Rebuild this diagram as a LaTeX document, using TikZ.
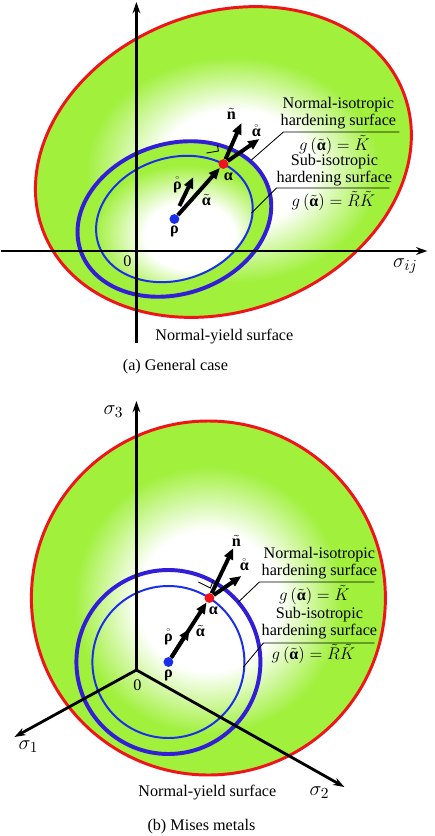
\documentclass[tikz,border=0pt]{standalone}
\usepackage{fontspec}
\setmainfont{Liberation Serif}
\usepackage{amsmath}
\usetikzlibrary{calc,arrows.meta}

\definecolor{leaf}{RGB}{160,240,60}
\definecolor{yieldred}{RGB}{240,20,25}
\definecolor{isoblue}{RGB}{50,30,215}
\definecolor{subblue}{RGB}{25,45,235}

% upright bold letters for tensors
\newcommand{\tens}[1]{\text{\textbf{#1}}}

% white centre fading to green
\pgfdeclareradialshading{yieldA}{\pgfpoint{1.7bp}{1.9bp}}{color(0bp)=(white); color(9bp)=(white); color(17.5bp)=(leaf); color(50bp)=(leaf)}
\pgfdeclareradialshading{innerA}{\pgfpoint{6bp}{-5bp}}{color(0bp)=(white); color(13bp)=(white); color(26bp)=(leaf); color(50bp)=(leaf)}
\pgfdeclareradialshading{yieldB}{\pgfpoint{0bp}{-0.5bp}}{color(0bp)=(white); color(10bp)=(white); color(19bp)=(leaf); color(50bp)=(leaf)}

\tikzset{
  axisline/.style={line width=2pt, -{Stealth[length=8pt,width=5.5pt]}},
  vec/.style={line width=2.8pt, -{Triangle[length=8pt,width=6.5pt]}},
  leader/.style={line width=0.6pt},
  yieldsurf/.style={draw=yieldred, line width=2.1pt},
  isosurf/.style={draw=isoblue, line width=2.8pt},
  subsurf/.style={draw=subblue, line width=1.4pt},
  dot/.style={circle, inner sep=0pt, minimum size=7pt},
  sig/.style={font=\fontsize{15}{15}\selectfont},
}

\begin{document}
\begin{tikzpicture}[x=0.025cm, y=-0.025cm, inner sep=0.5pt, font=\fontsize{11.5}{11.8}\selectfont]

    % page
    \fill[white] (0,0) rectangle (427,836);

    %% (a) general case
    \coordinate (Oa) at (135,251);
    \coordinate (ctrYieldA) at (222,162);
    \coordinate (rhoA) at (173,219);
    \coordinate (alphaA) at (222,164);

    % surfaces
    \shade[shading=yieldA, rotate around={21:(ctrYieldA)}] (ctrYieldA) ellipse [x radius=193, y radius=149];
    \fill[leaf, rotate around={18.5:(rhoA)}] (rhoA) ellipse [x radius=99, y radius=75];
    \shade[shading=innerA, rotate around={18.5:(rhoA)}] (rhoA) ellipse [x radius=80, y radius=61];
    \draw[yieldsurf, rotate around={21:(ctrYieldA)}] (ctrYieldA) ellipse [x radius=193, y radius=149];
    \draw[isosurf, rotate around={18.5:(rhoA)}] (rhoA) ellipse [x radius=99, y radius=75];
    \draw[subsurf, rotate around={18.5:(rhoA)}] (rhoA) ellipse [x radius=80, y radius=61];

    % axes
    \coordinate (sigTopA) at (135,2);
    \coordinate (sigBotA) at (135,343);
    \coordinate (sigLeftA) at (0,251);
    \coordinate (sigRightA) at (426,251);
    \draw[axisline] (sigBotA) -- (sigTopA);
    \draw[axisline] (sigLeftA) -- (sigRightA);

    % points and vectors
    \node[dot, fill=subblue] (rhoPtA) at (rhoA) {};
    \node[dot, fill=yieldred] (alphaPtA) at (alphaA) {};
    \coordinate (rDotTailA) at (178,206);
    \coordinate (rDotTipA) at (192,177);
    \coordinate (nTipA) at (240,123);
    \coordinate (aDotTipA) at (258,139);
    \draw[vec] (rhoPtA) -- (alphaPtA);
    \draw[vec] (rDotTailA) -- (rDotTipA);
    \draw[vec] (alphaPtA) -- (nTipA);
    \draw[vec] (alphaPtA) -- (aDotTipA);
    \draw[leader] (205,153) -- (217,151) -- (216,145); % right angle

    \node (nLblA) at (230,114) {$\tilde{\tens{n}}$};
    \node (aDotLblA) at (255,131) {$\mathring{\tens{α}}$};
    \node (alphaLblA) at (227,177) {$\tens{α}$};
    \node (aTilLblA) at (205,200) {$\tilde{\tens{α}}$};
    \node (rDotLblA) at (176,185) {$\mathring{\tens{ρ}}$};
    \node (rhoLblA) at (173,231) {$\tens{ρ}$};
    \node (zeroA) at (126,261) {0};
    \node[sig] (sigLblA) at (404,266) {$\sigma_{ij}$};

    % callouts
    \node[align=center] (isoTxtA) at (337,113) {Normal-isotropic\\hardening surface};
    \node (isoEqA) at (333,145) {$g\,(\tilde{\tens{α}})=\tilde{K}$};
    \node[align=center] (subTxtA) at (333,170) {Sub-isotropic\\hardening surface};
    \node (subEqA) at (332,201) {$g\,(\tilde{\tens{α}})=\tilde{R}\tilde{K}$};
    \coordinate (isoTipA) at (250,160);
    \coordinate (isoKneeA) at (282,132);
    \coordinate (isoEndA) at (398,132);
    \coordinate (subTipA) at (250,213);
    \coordinate (subKneeA) at (275,188);
    \coordinate (subEndA) at (388,188);
    \draw[leader] (isoTipA) -- (isoKneeA) -- (isoEndA);
    \draw[leader] (subTipA) -- (subKneeA) -- (subEndA);

    \node (yieldTxtA) at (223,337) {Normal-yield surface};
    \node (capA) at (174,367) {(a) General case};

    %% (b) Mises metals
    \coordinate (Ob) at (135,670);
    \coordinate (ctrYieldB) at (207,598);
    \coordinate (rhoB) at (167,662);
    \coordinate (alphaB) at (208,598);

    % surfaces
    \shade[shading=yieldB] (ctrYieldB) circle [radius=177];
    \draw[yieldsurf] (ctrYieldB) circle [radius=177];
    \draw[isosurf] (rhoB) circle [radius=92];
    \draw[subsurf] (rhoB) circle [radius=76];

    % axes
    \coordinate (sig3Tip) at (135,401);
    \coordinate (sig1Tip) at (13,737);
    \coordinate (sig2Tip) at (343,787);
    \draw[axisline] (Ob) -- (sig3Tip);
    \draw[axisline] (Ob) -- (sig1Tip);
    \draw[axisline] (Ob) -- (sig2Tip);

    % points and vectors
    \node[dot, fill=subblue] (rhoPtB) at (rhoB) {};
    \node[dot, fill=yieldred] (alphaPtB) at (alphaB) {};
    \coordinate (rDotTipB) at ($(rhoB)!0.52!(alphaB)$);
    \coordinate (nTipB) at (232,548);
    \coordinate (aDotTipB) at (240,576);
    \draw[vec] (rhoPtB) -- (alphaPtB);
    \draw[vec] (rhoPtB) -- (rDotTipB);
    \draw[vec] (alphaPtB) -- (nTipB);
    \draw[vec] (alphaPtB) -- (aDotTipB);
    \draw[leader] (197,582) -- (209,588) -- (212,580); % right angle

    \node (nLblB) at (235,541) {$\tilde{\tens{n}}$};
    \node (aDotLblB) at (243,565) {$\mathring{\tens{α}}$};
    \node (alphaLblB) at (212,611) {$\tens{α}$};
    \node (aTilLblB) at (199,631) {$\tilde{\tens{α}}$};
    \node (rDotLblB) at (167,637) {$\mathring{\tens{ρ}}$};
    \node (rhoLblB) at (167,675) {$\tens{ρ}$};
    \node (zeroB) at (136,685) {0};
    \node[sig] (sig3Lbl) at (112,412) {$\sigma_3$};
    \node[sig] (sig1Lbl) at (27,747) {$\sigma_1$};
    \node[sig] (sig2Lbl) at (318,793) {$\sigma_2$};

    % callouts
    \node[align=center] (isoTxtB) at (318,563) {Normal-isotropic\\hardening surface};
    \node (isoEqB) at (313,595) {$g\,(\tilde{\tens{α}})=\tilde{K}$};
    \node[align=center] (subTxtB) at (318,623) {Sub-isotropic\\hardening surface};
    \node (subEqB) at (312,654) {$g\,(\tilde{\tens{α}})=\tilde{R}\tilde{K}$};
    \coordinate (isoTipB) at (237,602);
    \coordinate (isoKneeB) at (258,582);
    \coordinate (isoEndB) at (373,582);
    \coordinate (subTipB) at (242,667);
    \coordinate (subKneeB) at (262,643);
    \coordinate (subEndB) at (373,643);
    \draw[leader] (isoTipB) -- (isoKneeB) -- (isoEndB);
    \draw[leader] (subTipB) -- (subKneeB) -- (subEndB);

    \node (yieldTxtB) at (206,793) {Normal-yield surface};
    \node (capB) at (200,827) {(b) Mises metals};

\end{tikzpicture}
\end{document}
